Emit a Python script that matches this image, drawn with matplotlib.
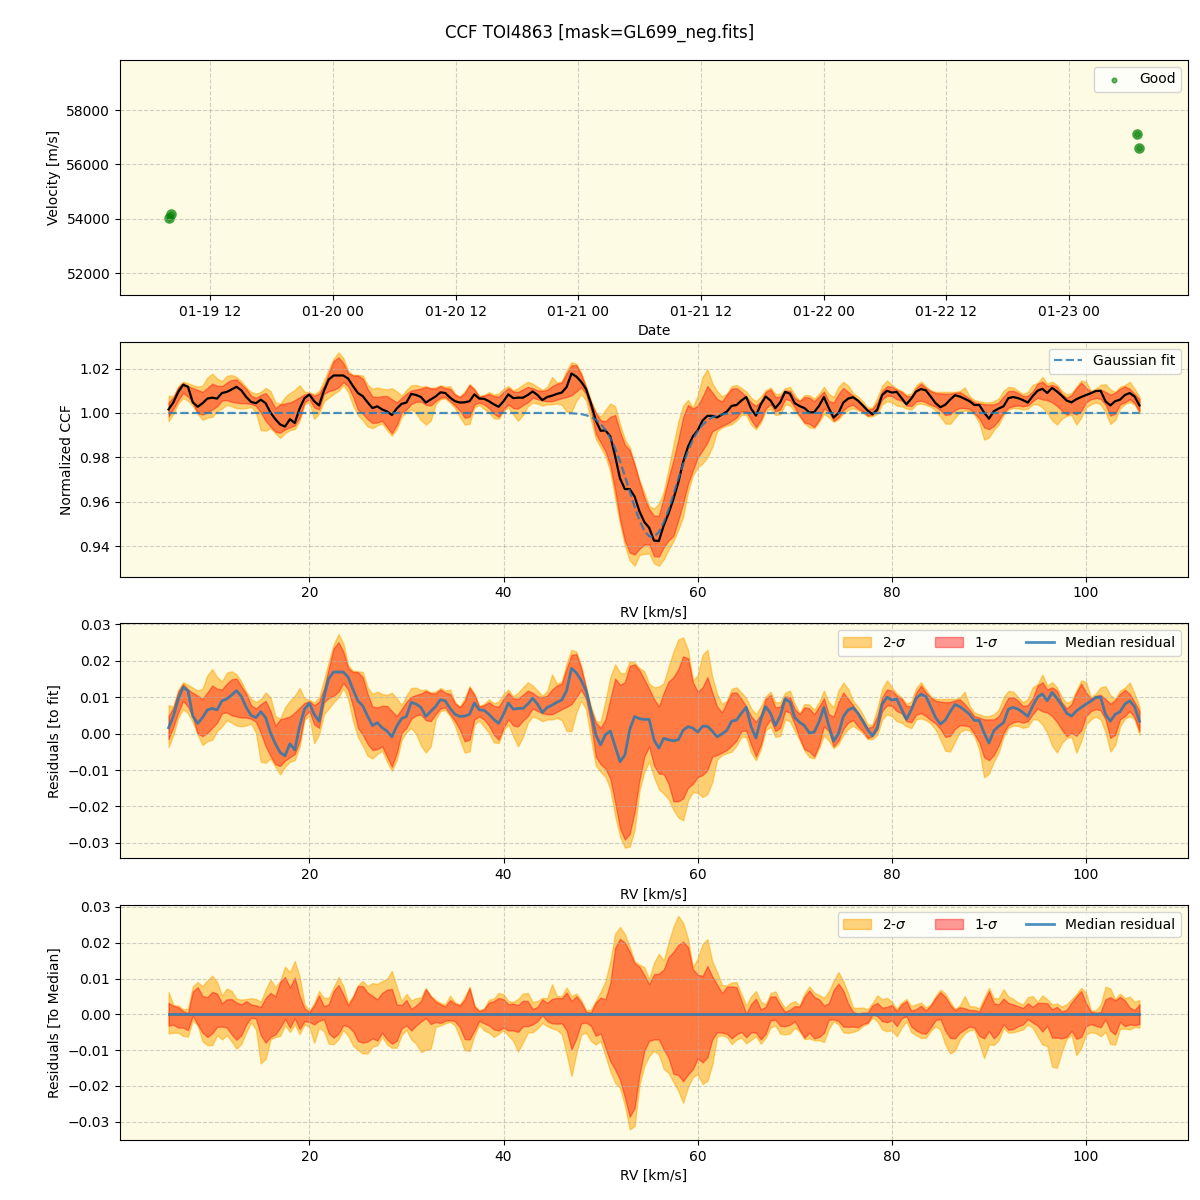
import numpy as np
import matplotlib
matplotlib.use("Agg")
import matplotlib.pyplot as plt
import matplotlib.dates as mdates
import pandas as pd

# ---- top panel: RV time series
obs_times = ["2025-01-19 07:55", "2025-01-19 08:07", "2025-01-23 06:41", "2025-01-23 06:53"]
obs_vel = [54026, 54172, 57108, 56595]

# ---- CCF grid (km/s), one sample every 0.5 km/s
rv = np.arange(5.5, 106.0, 0.5)

# gaussian fit of the median CCF
gauss_fit = ([1.0] * 81 +
             [1.0000, 0.9999, 0.9999, 0.9997, 0.9995, 0.9990, 0.9982, 0.9970, 0.9951, 0.9924,
              0.9888, 0.9840, 0.9782, 0.9716, 0.9646, 0.9577, 0.9516, 0.9470, 0.9444, 0.9442,
              0.9463, 0.9506, 0.9564, 0.9632, 0.9703, 0.9770, 0.9829, 0.9879, 0.9918, 0.9946,
              0.9967, 0.9980, 0.9989, 0.9994, 0.9997, 0.9998, 0.9999] +
             [1.0] * 83)

# residuals to the fit, in units of 1e-3
res_med = [1.6, 4.8, 9.5, 12.7, 11.8, 4.8, 2.8, 4.4, 6.5, 6.9,
           6.5, 9.0, 9.5, 10.6, 11.8, 10.2, 7.2, 5.0, 4.4, 6.0,
           4.4, 0.2, -2.8, -5.2, -6.1, -2.8, -4.5, 2.0, 6.7, 8.3,
           5.3, 3.4, 10.0, 15.1, 16.9, 16.9, 16.9, 15.5, 12.1, 9.0,
           7.6, 4.8, 2.2, 3.0, 1.6, 0.7, -0.9, 2.0, 4.1, 4.7,
           8.6, 8.1, 7.2, 4.7, 6.1, 7.4, 9.3, 9.0, 6.9, 5.3,
           4.7, 4.8, 5.3, 8.4, 6.5, 6.4, 5.3, 3.9, 2.8, 5.3,
           8.4, 6.7, 6.9, 6.9, 8.1, 9.7, 8.1, 5.8, 7.2, 7.8,
           8.6, 9.2, 11.8, 17.9, 16.7, 14.6, 11.8, 6.2, -0.3, -3.1,
           -0.3, 0.7, -3.5, -7.7, -5.9, 1.1, 4.7, 4.1, 3.9, 3.9,
           -1.7, -4.0, -1.3, -1.7, -2.0, -1.7, 0.9, 1.9, 1.5, 0.4,
           2.0, 2.0, 0.7, -0.9, -0.1, 0.9, 3.4, 3.7, 5.6, 7.2,
           1.9, -1.2, 3.9, 7.4, 5.6, 2.2, 4.8, 9.5, 8.7, 4.4,
           3.1, 2.2, 0.2, 0.4, 3.2, 7.2, 2.2, -2.1, 0.0, 4.7,
           6.5, 7.1, 5.6, 3.4, 1.1, -0.6, 1.6, 8.1, 10.0, 9.2,
           9.5, 6.7, 3.9, 6.5, 9.7, 10.8, 10.2, 7.4, 4.4, 2.6,
           3.7, 6.0, 8.0, 7.4, 6.4, 5.3, 3.6, 3.6, 0.2, -2.6,
           0.8, 2.0, 3.0, 6.7, 7.2, 6.7, 5.8, 4.7, 7.6, 10.0,
           10.9, 9.0, 11.3, 9.7, 7.8, 5.6, 4.8, 6.2, 7.2, 8.1,
           8.9, 9.9, 10.0, 5.3, 3.4, 5.3, 6.0, 8.1, 9.0, 7.4,
           3.4]

res_hi1 = [4.8, 7.2, 11.5, 13.6, 12.1, 11.2, 10.4, 9.5, 11.3, 13.2,
           12.3, 12.1, 13.7, 14.9, 15.1, 13.0, 10.9, 7.8, 6.9, 8.1,
           9.0, 6.2, 2.2, 3.9, 4.3, 4.7, 5.8, 7.1, 8.4, 8.9,
           7.8, 8.7, 12.3, 17.9, 23.4, 25.1, 22.5, 18.0, 16.9, 16.9,
           15.5, 10.9, 7.4, 7.2, 7.6, 7.6, 6.2, 4.8, 6.7, 8.7,
           10.1, 10.6, 11.0, 11.7, 11.1, 11.0, 12.1, 11.2, 10.9, 8.3,
           7.2, 8.9, 12.6, 10.6, 7.4, 7.8, 8.6, 7.6, 7.4, 9.5,
           11.2, 9.7, 9.5, 10.7, 11.8, 11.2, 10.2, 10.0, 10.4, 12.1,
           13.2, 13.7, 17.9, 21.6, 21.8, 17.9, 12.5, 6.7, 3.0, 1.6,
           3.9, 9.5, 15.1, 13.4, 14.1, 18.6, 19.0, 17.4, 14.9, 12.3,
           9.5, 7.4, 11.2, 14.3, 15.5, 17.7, 21.2, 20.7, 14.1, 11.5,
           12.7, 15.5, 11.3, 7.4, 5.8, 8.6, 11.2, 11.3, 9.5, 7.4,
           4.8, 3.2, 5.3, 9.5, 10.6, 7.2, 7.4, 10.2, 10.0, 6.7,
           5.3, 7.2, 6.9, 5.3, 7.4, 9.7, 5.3, 4.7, 8.6, 11.3,
           9.5, 7.8, 5.8, 3.9, 1.6, 1.9, 4.8, 10.0, 12.1, 11.8,
           10.4, 9.5, 7.6, 7.5, 11.2, 13.2, 11.3, 9.9, 9.0, 8.8,
           8.6, 8.7, 9.1, 9.4, 8.1, 6.5, 4.8, 4.4, 3.9, 3.9,
           3.9, 4.8, 7.4, 9.9, 10.0, 9.0, 7.6, 7.8, 9.7, 13.2,
           14.1, 12.1, 12.7, 11.8, 8.6, 6.9, 8.1, 11.2, 13.7, 11.3,
           9.6, 10.4, 10.6, 9.5, 8.2, 9.2, 10.9, 12.0, 10.9, 8.6,
           6.2]

res_hi2 = [7.8, 7.4, 12.0, 14.1, 13.4, 12.6, 11.8, 12.3, 16.0, 17.7,
           15.5, 14.3, 16.7, 17.1, 16.2, 14.3, 11.5, 9.5, 8.7, 9.5,
           11.3, 9.9, 4.8, 4.1, 7.2, 9.0, 10.4, 12.5, 9.6, 9.3,
           8.5, 9.9, 14.6, 19.7, 24.4, 27.3, 24.8, 18.8, 17.2, 17.1,
           16.9, 12.7, 10.9, 11.5, 10.9, 10.6, 11.2, 9.7, 7.8, 10.4,
           12.5, 12.6, 11.9, 12.1, 11.3, 11.5, 12.5, 11.8, 12.1, 8.7,
           7.4, 9.7, 13.0, 11.0, 7.6, 8.1, 9.4, 8.3, 8.8, 10.9,
           12.1, 10.2, 11.2, 12.7, 14.1, 13.2, 11.8, 10.4, 11.7, 16.2,
           13.7, 14.3, 19.3, 23.0, 22.5, 18.6, 13.0, 7.5, 3.5, 3.2,
           9.0, 15.5, 19.0, 16.7, 16.5, 19.9, 19.5, 18.0, 17.1, 13.7,
           12.7, 12.9, 13.8, 18.3, 22.5, 25.8, 26.4, 23.0, 14.6, 16.0,
           21.6, 23.0, 15.5, 10.9, 8.1, 9.0, 12.3, 12.7, 11.3, 9.7,
           6.9, 5.3, 7.4, 10.2, 11.5, 8.6, 8.6, 11.2, 11.8, 8.1,
           5.6, 8.1, 8.0, 6.5, 8.6, 11.8, 8.6, 7.2, 11.8, 14.0,
           12.3, 9.0, 7.4, 5.3, 2.5, 2.5, 6.9, 12.3, 14.6, 12.7,
           11.0, 10.0, 8.2, 8.8, 12.5, 14.1, 12.1, 10.2, 9.5, 9.5,
           9.5, 9.5, 9.5, 9.9, 11.5, 7.6, 5.8, 5.3, 4.8, 4.8,
           5.3, 6.5, 10.0, 11.7, 11.5, 10.0, 8.6, 9.5, 12.7, 13.5,
           16.2, 13.2, 14.1, 12.7, 10.0, 8.4, 9.0, 11.8, 14.6, 14.1,
           10.0, 11.0, 12.7, 13.0, 10.6, 9.5, 11.8, 12.6, 14.0, 10.9,
           7.4]

res_lo1 = [-1.5, 1.9, 5.8, 9.0, 7.4, 4.5, 0.0, -0.7, 0.2, 1.6,
           3.0, 5.6, 5.8, 5.0, 4.7, 4.4, 4.4, 4.1, 3.2, 0.2,
           -3.5, -6.1, -8.4, -8.9, -7.4, -6.5, -5.6, -2.1, 4.8, 6.2,
           2.5, 1.6, 8.6, 9.8, 10.4, 11.5, 13.9, 12.1, 7.4, 1.6,
           -0.3, -2.8, -4.5, -4.3, -3.5, -6.3, -9.1, -5.4, 0.2, 1.6,
           4.1, 5.0, 5.2, 3.7, 3.4, 5.3, 6.9, 7.2, 5.3, 3.4,
           1.1, -2.1, -1.7, 3.9, 4.7, 3.9, 2.2, -0.3, -1.7, 1.6,
           3.9, 2.2, 2.0, 3.6, 4.8, 6.9, 6.2, 5.6, 5.3, 5.3,
           6.0, 6.7, 7.3, 8.1, 10.0, 12.1, 9.5, 3.0, -6.3, -8.4,
           -9.6, -12.4, -18.9, -26.0, -29.1, -27.5, -21.5, -12.8, -6.3, -3.5,
           -8.7, -11.0, -11.1, -13.8, -18.6, -18.6, -17.8, -14.9, -13.8, -11.9,
           -11.4, -10.0, -6.3, -5.9, -5.2, -4.5, -3.3, -1.9, 0.7, 0.8,
           -3.1, -6.3, -3.1, 2.0, 3.9, 0.7, 1.6, 6.2, 5.8, 2.5,
           -1.2, -4.3, -4.9, -6.3, -3.1, 2.0, 0.7, -3.5, -1.9, 1.3,
           3.0, 3.7, 2.0, 0.7, -1.2, -0.7, 1.1, 6.2, 7.8, 7.6,
           6.2, 5.6, 3.4, 3.1, 5.2, 5.6, 4.8, 3.7, 2.8, 1.3,
           -0.9, -0.6, 1.3, 2.3, 2.2, 1.9, -0.1, -2.4, -6.5, -7.3,
           -5.9, -3.3, 0.2, 2.4, 3.1, 3.4, 3.0, 3.4, 5.3, 6.9,
           6.1, 5.8, 4.8, 3.2, 1.1, -0.7, 0.2, -0.6, 0.9, 4.8,
           6.2, 6.7, 6.4, 3.9, -1.2, -0.3, 3.9, 4.8, 6.2, 4.4,
           0.7]

res_lo2 = [-3.7, -0.3, 4.4, 6.7, 5.6, 3.2, -0.3, -3.1, -2.1, -1.7,
           0.7, 2.0, 3.7, 3.0, 2.2, 2.0, 2.2, 2.8, 0.2, -7.7,
           -8.0, -6.8, -9.1, -11.2, -9.1, -7.7, -7.3, -3.5, 3.9, 4.8,
           -2.6, -0.3, 5.3, 6.9, 8.6, 10.0, 12.5, 9.5, 3.4, -0.9,
           -3.3, -6.1, -6.8, -5.6, -4.7, -7.7, -10.2, -7.3, -1.7, 0.4,
           1.6, -0.1, -3.3, -5.2, -3.5, 3.9, 6.2, 6.5, 4.8, 2.2,
           -1.7, -5.2, -4.9, 2.5, 3.6, 1.9, 0.2, -2.4, -2.6, 0.9,
           2.5, -0.7, -3.5, -0.9, 3.0, 4.7, 4.2, 3.4, 3.9, 3.9,
           4.3, 3.7, 0.7, 0.7, 5.8, 9.0, 6.7, -1.2, -8.7, -10.5,
           -11.9, -15.2, -22.6, -28.2, -31.3, -31.0, -26.5, -15.6, -10.5, -7.7,
           -11.9, -15.2, -16.5, -18.0, -20.9, -23.0, -23.8, -18.4, -16.0, -16.3,
           -17.4, -16.6, -13.3, -7.1, -5.9, -5.4, -4.9, -3.3, -0.9, -0.9,
           -5.2, -7.3, -4.3, 0.9, 1.9, -0.9, -0.6, 3.9, 3.4, 0.7,
           -1.7, -4.7, -6.5, -6.8, -4.0, -0.5, -1.9, -4.0, -2.8, -0.3,
           1.3, 2.2, 1.2, 0.2, -1.5, -1.5, -0.3, 3.9, 5.3, 4.8,
           3.4, 3.0, 2.0, 1.5, 3.9, 4.2, 3.7, 2.8, 1.1, -1.7,
           -4.7, -4.9, -2.1, 0.4, 1.1, 0.9, -0.7, -4.4, -12.0, -11.0,
           -7.7, -5.2, -0.9, 1.6, 2.2, 2.1, 1.6, 1.9, 3.9, 3.9,
           2.5, 0.2, -3.3, -5.2, -2.6, -1.2, -0.9, -5.2, -2.1, 2.5,
           3.9, 4.7, 3.9, 0.4, -4.9, -3.1, 2.0, 4.1, 4.8, 3.9,
           -0.3]

fit = np.array(gauss_fit)
med = np.array(res_med) * 1e-3
hi1 = np.array(res_hi1) * 1e-3
hi2 = np.array(res_hi2) * 1e-3
lo1 = np.array(res_lo1) * 1e-3
lo2 = np.array(res_lo2) * 1e-3

bg = '#fdfbe3'
grid_kw = dict(ls='--', color='#b0b0b0', alpha=0.6)

fig, axes = plt.subplots(4, 1, figsize=(12, 12), dpi=100)
fig.subplots_adjust(left=0.1, right=0.99, top=0.95, bottom=0.05, hspace=0.2)
fig.suptitle('CCF TOI4863 [mask=GL699_neg.fits]', fontsize=12)

# time series
ax = axes[0]
ax.set_facecolor(bg)
t = pd.to_datetime(obs_times)
ax.scatter(t, obs_vel, s=45, color='green', alpha=0.6, label='Good')
ax.scatter(t, obs_vel, s=15, color='green', alpha=0.5)
ax.xaxis.set_major_locator(mdates.HourLocator(byhour=[0, 12]))
ax.xaxis.set_major_formatter(mdates.DateFormatter('%m-%d %H'))
ax.set_ylim(51200, 59840)
ax.set_xlabel('Date')
ax.set_ylabel('Velocity [m/s]')
ax.grid(True, **grid_kw)
ax.legend(loc='upper right', markerscale=0.5)

# median CCF with bands
ax = axes[1]
ax.set_facecolor(bg)
ax.fill_between(rv, fit + lo2, fit + hi2, color='orange', alpha=0.5)
ax.fill_between(rv, fit + lo1, fit + hi1, color='red', alpha=0.4)
ax.plot(rv, fit + med, color='black', lw=1.6)
ax.plot(rv, fit, '--', color='C0', alpha=0.8, lw=1.6, label='Gaussian fit')
ax.set_xlabel('RV [km/s]')
ax.set_ylabel('Normalized CCF')
ax.grid(True, **grid_kw)
ax.legend(loc='upper right')

# residuals to fit
ax = axes[2]
ax.set_facecolor(bg)
ax.fill_between(rv, lo2, hi2, color='orange', alpha=0.5, label=r'2-$\sigma$')
ax.fill_between(rv, lo1, hi1, color='red', alpha=0.4, label=r'1-$\sigma$')
ax.plot(rv, med, color='C0', alpha=0.8, lw=2, label='Median residual')
ax.set_xlabel('RV [km/s]')
ax.set_ylabel('Residuals [to fit]')
ax.grid(True, **grid_kw)
ax.legend(loc='upper right', ncol=3)

# residuals to median
ax = axes[3]
ax.set_facecolor(bg)
ax.fill_between(rv, lo2 - med, hi2 - med, color='orange', alpha=0.5, label=r'2-$\sigma$')
ax.fill_between(rv, lo1 - med, hi1 - med, color='red', alpha=0.4, label=r'1-$\sigma$')
ax.plot(rv, med - med, color='C0', alpha=0.8, lw=2, label='Median residual')
ax.set_xlabel('RV [km/s]')
ax.set_ylabel('Residuals [To Median]')
ax.grid(True, **grid_kw)
ax.legend(loc='upper right', ncol=3)

fig.savefig('out.png', dpi=100)
